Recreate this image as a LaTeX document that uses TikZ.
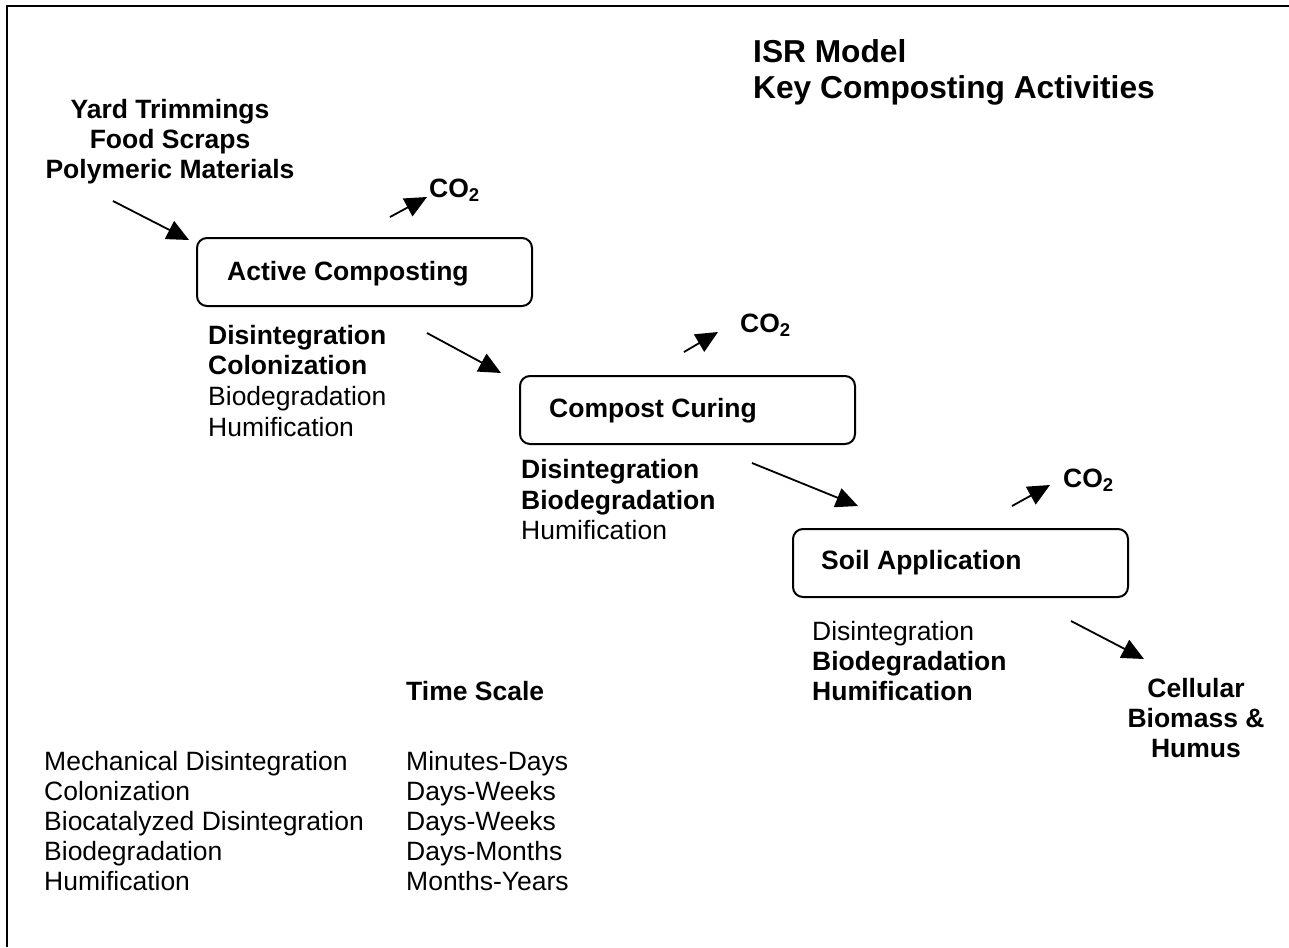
\documentclass[tikz,border=0pt]{standalone}
\usepackage{fontspec}
\setmainfont{Liberation Sans}
\usetikzlibrary{arrows.meta}
\begin{document}
\begin{tikzpicture}[x=1pt,y=-1pt,
  txt/.style={inner sep=0pt, anchor=base west, font=\fontsize{26.5}{30}\selectfont},
  btxt/.style={inner sep=0pt, anchor=base west, font=\fontsize{26.5}{30}\selectfont\bfseries},
  ctxt/.style={inner sep=0pt, anchor=base, font=\fontsize{26.5}{30}\selectfont\bfseries},
  ttl/.style={inner sep=0pt, anchor=base west, font=\fontsize{31.7}{36}\selectfont\bfseries},
  stage/.style={draw, line width=2pt, rounded corners=10pt, inner sep=0pt, minimum width=335pt, minimum height=68pt, anchor=north west},
  flow/.style={line width=1.8pt, -{Triangle[length=22pt,width=20pt]}},
]
\useasboundingbox (0,0) rectangle (1289,947);
\draw[line width=2pt] (6.5,947) -- (6.5,6) -- (1289,6);

% title
\node[ttl] (t1) at (753,63) {ISR Model};
\node[ttl] (t2) at (753,99) {Key Composting Activities};

% inputs
\node[ctxt] (in1) at (170,118) {Yard Trimmings};
\node[ctxt] (in2) at (170,148) {Food Scraps};
\node[ctxt] (in3) at (170,178) {Polymeric Materials};

% stage boxes
\node[stage] (active) at (196,237) {};
\node[btxt] (activet) at (227,280) {Active Composting};
\node[stage] (curing) at (519,375) {};
\node[btxt] (curingt) at (549,417) {Compost Curing};
\node[stage] (soil) at (792,528) {};
\node[btxt] (soilt) at (821,569) {Soil Application};

% CO2
\node[btxt] (co2a) at (429,197) {CO\textsubscript{2}};
\node[btxt] (co2b) at (740,332) {CO\textsubscript{2}};
\node[btxt] (co2c) at (1063,487) {CO\textsubscript{2}};

% activities under boxes
\node[btxt] (a1) at (208,344) {Disintegration};
\node[btxt] (a2) at (208,374) {Colonization};
\node[txt]  (a3) at (208,405) {Biodegradation};
\node[txt]  (a4) at (208,436) {Humification};

\node[btxt] (b1) at (521,478) {Disintegration};
\node[btxt] (b2) at (521,509) {Biodegradation};
\node[txt]  (b3) at (521,539) {Humification};

\node[txt]  (c1) at (812,640) {Disintegration};
\node[btxt] (c2) at (812,670) {Biodegradation};
\node[btxt] (c3) at (812,700) {Humification};

% output
\node[ctxt] (o1) at (1196,697) {Cellular};
\node[ctxt] (o2) at (1196,727) {Biomass \&};
\node[ctxt] (o3) at (1196,757) {Humus};

% legend
\node[btxt] (ts) at (406,700) {Time Scale};
\node[txt] (l1) at (44,770) {Mechanical Disintegration};
\node[txt] (l2) at (44,800) {Colonization};
\node[txt] (l3) at (44,830) {Biocatalyzed Disintegration};
\node[txt] (l4) at (44,860) {Biodegradation};
\node[txt] (l5) at (44,890) {Humification};
\node[txt] (r1) at (406,770) {Minutes-Days};
\node[txt] (r2) at (406,800) {Days-Weeks};
\node[txt] (r3) at (406,830) {Days-Weeks};
\node[txt] (r4) at (406,860) {Days-Months};
\node[txt] (r5) at (406,890) {Months-Years};

% arrow end points
\coordinate (p1s) at (113,201); \coordinate (p1e) at (189,240);
\coordinate (p2s) at (427,333); \coordinate (p2e) at (501,373);
\coordinate (p3s) at (752,463); \coordinate (p3e) at (858,506);
\coordinate (p4s) at (1071,621); \coordinate (p4e) at (1144,659);
\coordinate (q1s) at (390,217); \coordinate (q1e) at (427,197);
\coordinate (q2s) at (684,352); \coordinate (q2e) at (718,332);
\coordinate (q3s) at (1012,506); \coordinate (q3e) at (1050,485);

\draw[flow] (p1s) -- (p1e);
\draw[flow] (p2s) -- (p2e);
\draw[flow] (p3s) -- (p3e);
\draw[flow] (p4s) -- (p4e);
\draw[flow] (q1s) -- (q1e);
\draw[flow] (q2s) -- (q2e);
\draw[flow] (q3s) -- (q3e);
\end{tikzpicture}
\end{document}
